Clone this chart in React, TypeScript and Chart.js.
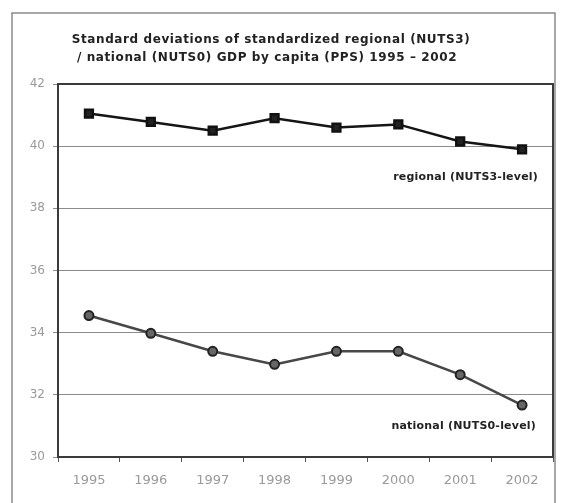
import React, { useEffect, useRef } from "react";
import { Chart, registerables } from "chart.js";

Chart.register(...registerables);

const years = ["1995", "1996", "1997", "1998", "1999", "2000", "2001", "2002"];
const regional = [41.05, 40.78, 40.5, 40.9, 40.6, 40.7, 40.15, 39.9];
const national = [34.55, 33.98, 33.4, 32.98, 33.4, 33.4, 32.65, 31.67];
const titleLines = [
  "Standard deviations of standardized regional (NUTS3)",
  "/ national (NUTS0) GDP by capita (PPS) 1995 \u2013 2002",
];
const regionalLabel = "regional (NUTS3-level)";
const nationalLabel = "national (NUTS0-level)";
const regionalLabelAt = 39.0;
const nationalLabelAt = 31.0;
const yMin = 30;
const yMax = 42;
const yStep = 2;

const decorPlugin = {
  id: "decor",
  beforeDraw(chart: any) {
    const ctx = chart.ctx;
    ctx.save();
    ctx.fillStyle = "#ffffff";
    ctx.fillRect(0, 0, chart.width, chart.height);
    // outer frame
    ctx.strokeStyle = "#8a8a8a";
    ctx.lineWidth = 1.5;
    ctx.beginPath();
    ctx.moveTo(12, chart.height + 2);
    ctx.lineTo(12, 13);
    ctx.lineTo(555, 13);
    ctx.lineTo(555, chart.height + 2);
    ctx.stroke();
    // title
    ctx.fillStyle = "#222";
    ctx.font = "bold 12px 'DejaVu Sans'";
    try { (ctx as any).letterSpacing = "0.6px"; } catch (e) {}
    ctx.textAlign = "center";
    ctx.textBaseline = "alphabetic";
    ctx.fillText(titleLines[0], 271, 43);
    ctx.fillText(titleLines[1], 267, 61);
    ctx.restore();
  },
  afterDatasetsDraw(chart: any) {
    const ctx = chart.ctx;
    const a = chart.chartArea;
    const y = chart.scales.y;
    ctx.save();
    ctx.strokeStyle = "#3a3a3a";
    ctx.lineWidth = 2;
    ctx.strokeRect(a.left, a.top, a.right - a.left, a.bottom - a.top);
    ctx.fillStyle = "#222";
    ctx.font = "bold 11px 'DejaVu Sans'";
    try { (ctx as any).letterSpacing = "0.2px"; } catch (e) {}
    ctx.textAlign = "right";
    ctx.textBaseline = "middle";
    ctx.fillText(regionalLabel, a.right - 15, y.getPixelForValue(regionalLabelAt));
    ctx.fillText(nationalLabel, a.right - 17, y.getPixelForValue(nationalLabelAt));
    ctx.restore();
  },
};

export default function App() {
  const ref = useRef<HTMLCanvasElement>(null);
  useEffect(() => {
    document.body.style.margin = "0";
    const chart = new Chart(ref.current!, {
      type: "line",
      data: {
        labels: years,
        datasets: [
          {
            data: regional,
            borderColor: "#151515",
            backgroundColor: "#111",
            borderWidth: 2.5,
            pointStyle: "rect",
            pointRadius: 5.5,
            pointBorderColor: "#111",
            pointBackgroundColor: "#222",
            tension: 0,
          },
          {
            data: national,
            borderColor: "#474747",
            backgroundColor: "#555",
            borderWidth: 2.5,
            pointStyle: "circle",
            pointRadius: 4.5,
            pointBorderColor: "#222",
            pointBorderWidth: 2,
            pointBackgroundColor: "#666",
            tension: 0,
          },
        ],
      },
      options: {
        responsive: false,
        animation: false,
        devicePixelRatio: 1,
        layout: { padding: { left: 0, top: 84, right: 10, bottom: 0 } },
        plugins: {
          legend: { display: false },
          title: { display: false },
          tooltip: { enabled: false },
        },
        scales: {
          x: {
            type: "category",
            offset: true,
            grid: {
              offset: true,
              drawOnChartArea: false,
              tickLength: 5,
              color: "#555",
            },
            border: { display: false },
            ticks: {
              color: "#9a9a9a",
              font: { family: "'DejaVu Sans'", size: 13 },
              padding: 11,
              maxRotation: 0,
            },
            afterFit(scale: any) {
              scale.height = 46;
            },
          },
          y: {
            min: yMin,
            max: yMax,
            ticks: {
              stepSize: yStep,
              color: "#9a9a9a",
              font: { family: "'DejaVu Sans'", size: 12 },
              padding: 8,
            },
            grid: {
              color: "#8c8c8c",
              lineWidth: 1,
              tickLength: 5,
            },
            border: { display: false },
            afterFit(scale: any) {
              scale.width = 58;
            },
          },
        },
      },
      plugins: [decorPlugin],
    } as any);
    return () => chart.destroy();
  }, []);
  return (
    <div style={{ position: "relative", width: 563, height: 503 }}>
      <canvas ref={ref} width={563} height={503} style={{ display: "block" }} />
    </div>
  );
}
